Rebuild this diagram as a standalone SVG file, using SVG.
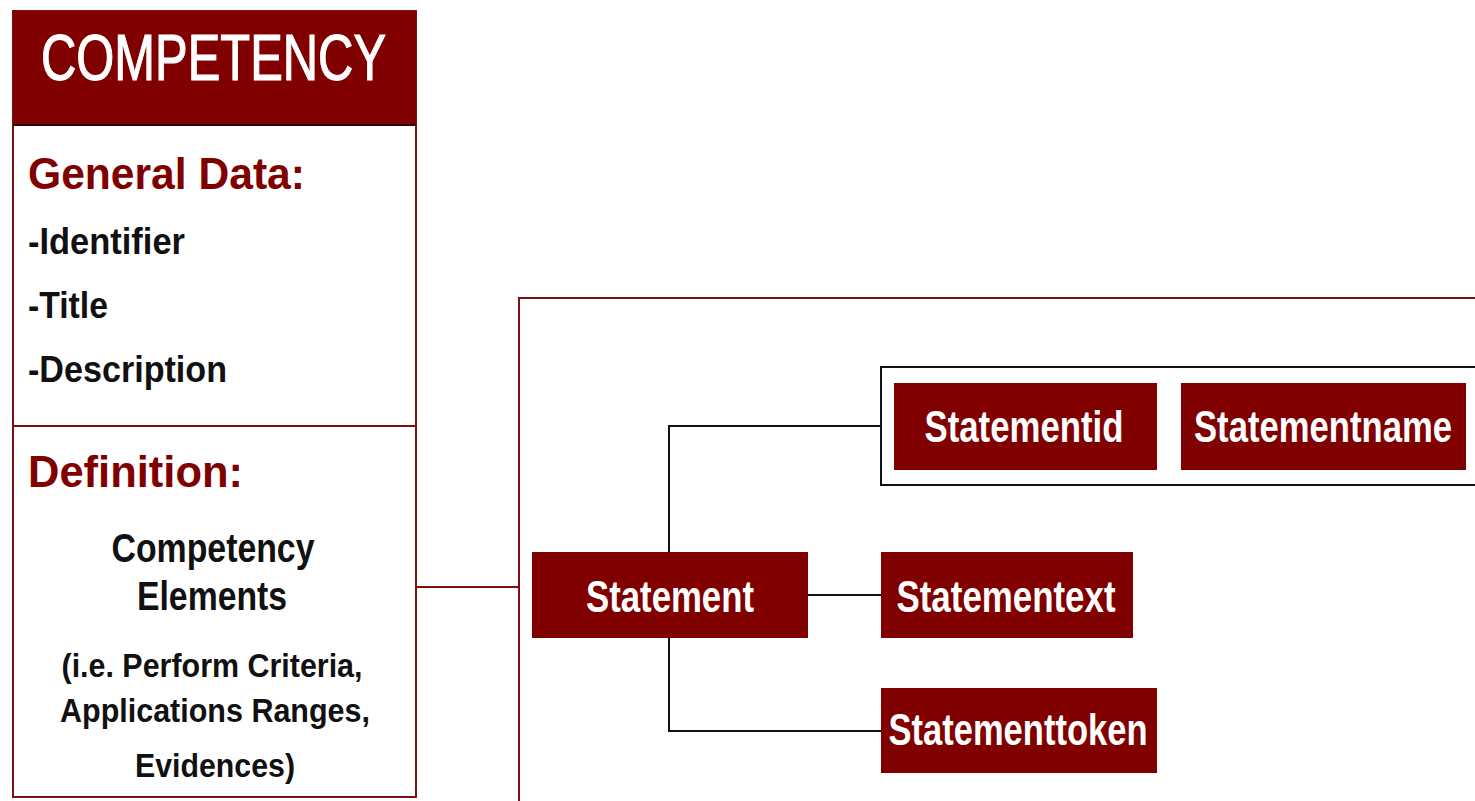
<svg xmlns="http://www.w3.org/2000/svg" width="1475" height="801" viewBox="0 0 1475 801">
<style>
.t{font-family:"Liberation Sans",Arial,sans-serif;font-weight:bold}
.w{fill:#ffffff}
.k{fill:#111111}
.r{fill:#800000}
.box{fill:#800000}
.lbl{font-size:44px}
.conn{stroke:#111111;stroke-width:2;fill:none}
</style>
<rect width="1475" height="801" fill="#ffffff"/>
<g id="competency">
<rect x="13" y="11" width="403" height="786" fill="#ffffff" stroke="#7a1010" stroke-width="2"/>
<rect x="13" y="11" width="403" height="114" fill="#800000"/>
<line x1="13" y1="125" x2="416" y2="125" stroke="#2a0000" stroke-width="2"/>
<line x1="13" y1="426" x2="416" y2="426" stroke="#7a1010" stroke-width="2"/>
<text class="w" x="41" y="80" font-family="Liberation Sans,Arial,sans-serif" font-size="65" stroke="#ffffff" stroke-width="1.2" textLength="345" lengthAdjust="spacingAndGlyphs">COMPETENCY</text>
<text class="t r" x="28" y="189" font-size="44" textLength="277" lengthAdjust="spacingAndGlyphs">General Data:</text>
<text class="t k" x="28" y="254" font-size="36" textLength="157" lengthAdjust="spacingAndGlyphs">-Identifier</text>
<text class="t k" x="28" y="318" font-size="36" textLength="80" lengthAdjust="spacingAndGlyphs">-Title</text>
<text class="t k" x="28" y="382" font-size="36" textLength="199" lengthAdjust="spacingAndGlyphs">-Description</text>
<text class="t r" x="28" y="487" font-size="44" textLength="215" lengthAdjust="spacingAndGlyphs">Definition:</text>
<text class="t k" x="213" y="562" font-size="40" text-anchor="middle" textLength="203" lengthAdjust="spacingAndGlyphs">Competency</text>
<text class="t k" x="212" y="610" font-size="40" text-anchor="middle" textLength="150" lengthAdjust="spacingAndGlyphs">Elements</text>
<text class="t k" x="212" y="677" font-size="33" text-anchor="middle" textLength="301" lengthAdjust="spacingAndGlyphs">(i.e. Perform Criteria,</text>
<text class="t k" x="215" y="722" font-size="33" text-anchor="middle" textLength="310" lengthAdjust="spacingAndGlyphs">Applications Ranges,</text>
<text class="t k" x="215" y="777" font-size="33" text-anchor="middle" textLength="160" lengthAdjust="spacingAndGlyphs">Evidences)</text>
</g>
<g id="container">
<rect x="519" y="298" width="970" height="520" fill="#ffffff" stroke="#7a1010" stroke-width="2"/>
</g>
<g id="group">
<rect x="881" y="367" width="610" height="118" fill="#ffffff" stroke="#111111" stroke-width="2"/>
</g>
<g id="connectors">
<line x1="416" y1="587" x2="519" y2="587" stroke="#7a1010" stroke-width="2"/>
<polyline class="conn" points="669,552 669,426 881,426"/>
<polyline class="conn" points="669,638 669,731 881,731"/>
<line class="conn" x1="808" y1="595" x2="881" y2="595"/>
</g>
<g id="statement">
<rect class="box" x="532" y="552" width="276" height="86"/>
<text class="t w lbl" x="670" y="612" text-anchor="middle" textLength="168" lengthAdjust="spacingAndGlyphs">Statement</text>
</g>
<g id="statementid">
<rect class="box" x="894" y="383" width="263" height="87"/>
<text class="t w lbl" x="1024" y="442" text-anchor="middle" textLength="199" lengthAdjust="spacingAndGlyphs">Statementid</text>
</g>
<g id="statementname">
<rect class="box" x="1181" y="383" width="285" height="87"/>
<text class="t w lbl" x="1323" y="442" text-anchor="middle" textLength="258" lengthAdjust="spacingAndGlyphs">Statementname</text>
</g>
<g id="statementext">
<rect class="box" x="881" y="552" width="252" height="86"/>
<text class="t w lbl" x="1006" y="612" text-anchor="middle" textLength="219" lengthAdjust="spacingAndGlyphs">Statementext</text>
</g>
<g id="statementtoken">
<rect class="box" x="881" y="688" width="276" height="85"/>
<text class="t w lbl" x="1018" y="745" text-anchor="middle" textLength="259" lengthAdjust="spacingAndGlyphs">Statementtoken</text>
</g>
</svg>
